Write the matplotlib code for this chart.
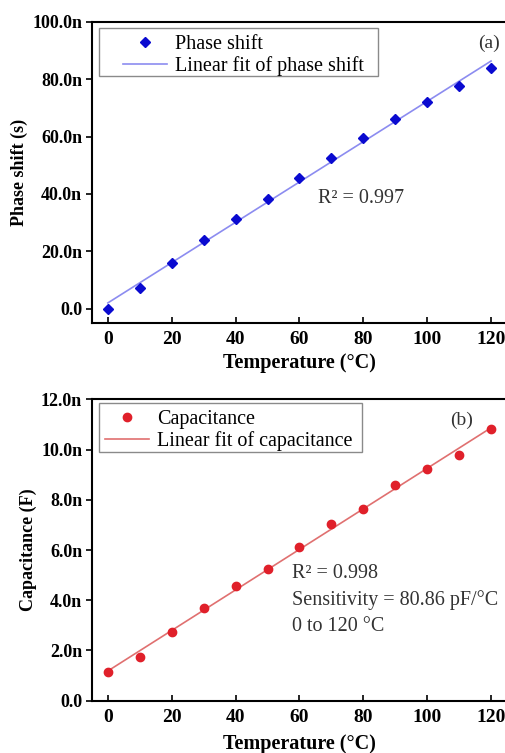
import numpy as np
import matplotlib
matplotlib.use("Agg")
import matplotlib.pyplot as plt
from matplotlib.patches import Rectangle

plt.rcParams["font.family"] = ["Liberation Serif", "DejaVu Serif"]

# data (nano units)
temperature = [0, 10, 20, 30, 40, 50, 60, 70, 80, 90, 100, 110, 120]
phase_shift = [0.0, 7.3, 15.9, 23.8, 31.4, 38.4, 45.4, 52.4, 59.6, 66.2, 72.1, 77.8, 84.0]
capacitance = [1.13, 1.75, 2.72, 3.70, 4.57, 5.26, 6.12, 7.05, 7.65, 8.58, 9.22, 9.78, 10.83]

x_ticks = [0, 20, 40, 60, 80, 100, 120]
phase_ticks = [0, 20, 40, 60, 80, 100]
phase_tick_labels = ["0.0", "20.0n", "40.0n", "60.0n", "80.0n", "100.0n"]
cap_ticks = [0, 2, 4, 6, 8, 10, 12]
cap_tick_labels = ["0.0", "2.0n", "4.0n", "6.0n", "8.0n", "10.0n", "12.0n"]

fig = plt.figure(figsize=(5.05, 7.53), dpi=100)
ax1 = fig.add_axes([0.182, 0.571, 0.822, 0.400])
ax2 = fig.add_axes([0.182, 0.0695, 0.822, 0.400])


def style(ax, yticks, ylabels, ylim, ylabel, xpad):
    ax.set_xlim(-5, 125)
    ax.set_ylim(*ylim)
    ax.set_xticks(x_ticks)
    ax.set_yticks(yticks)
    ax.set_yticklabels(ylabels)
    for lab in ax.get_xticklabels():
        lab.set_fontweight("bold")
        lab.set_fontsize(14)
    for lab in ax.get_yticklabels():
        lab.set_fontweight("bold")
        lab.set_fontsize(13)
    ax.tick_params(axis="x", direction="in", length=4, width=1.2, pad=6)
    ax.tick_params(axis="y", direction="out", length=4, width=1.2, pad=3)
    for s in ax.spines.values():
        s.set_linewidth(1.5)
    ax.set_xlabel("Temperature (°C)", fontsize=14.5, fontweight="bold", labelpad=xpad)
    ax.set_ylabel(ylabel, fontsize=13, fontweight="bold", labelpad=3)


def legend_box(ax, anchor, frame):
    ax.legend(loc="upper left", bbox_to_anchor=anchor, fontsize=14.5,
              frameon=False, borderaxespad=0, borderpad=0, handlelength=2.2,
              handletextpad=0.4, labelspacing=0.1)
    ax.add_patch(Rectangle(frame[:2], frame[2], frame[3], transform=ax.transAxes,
                           fill=False, edgecolor="#8a8a8a", lw=1.0, zorder=4))


fit_x = np.array([0, 120])

# (a) phase shift
p = np.polyfit(temperature, phase_shift, 1)
ax1.plot(temperature, phase_shift, "D", color="#0a0ad0", markersize=5.5,
         label="Phase shift", zorder=3)
ax1.plot(fit_x, np.polyval(p, fit_x), color="#8c8cf0", lw=1.2,
         label="Linear fit of phase shift")
style(ax1, phase_ticks, phase_tick_labels, (-5, 100), "Phase shift (s)", 3)
legend_box(ax1, (0.075, 0.955), (0.017, 0.821, 0.673, 0.159))
ax1.text(0.983, 0.93, "(a)", transform=ax1.transAxes, fontsize=14,
         color="#333333", ha="right", va="center")
ax1.text(0.545, 0.415, "R² = 0.997", transform=ax1.transAxes, fontsize=14.5,
         color="#333333", ha="left", va="center")

# (b) capacitance
c = np.polyfit(temperature, capacitance, 1)
ax2.plot(temperature, capacitance, "o", color="#e0202a", markersize=6,
         label="Capacitance", zorder=3)
ax2.plot(fit_x, np.polyval(c, fit_x), color="#e07070", lw=1.2,
         label="Linear fit of capacitance")
style(ax2, cap_ticks, cap_tick_labels, (0, 12), "Capacitance (F)", 6)
legend_box(ax2, (0.031, 0.965), (0.017, 0.825, 0.633, 0.163))
ax2.text(0.918, 0.93, "(b)", transform=ax2.transAxes, fontsize=14,
         color="#333333", ha="right", va="center")
ax2.text(0.483, 0.334, "R² = 0.998\nSensitivity = 80.86 pF/°C\n0 to 120 °C",
         transform=ax2.transAxes, fontsize=14.5, color="#333333",
         ha="left", va="center", linespacing=1.5)

fig.savefig("out.png", dpi=100)
